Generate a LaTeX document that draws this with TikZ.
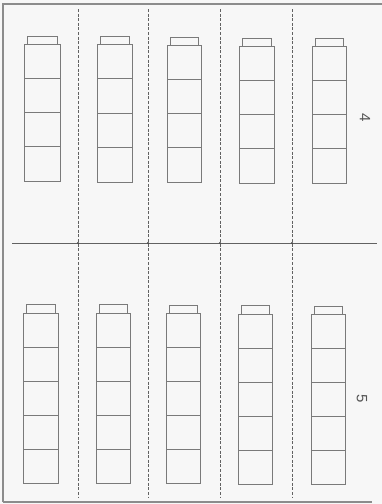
\documentclass[tikz,border=0pt]{standalone}
\usepackage{fontspec}
\setmainfont{Liberation Sans}
\definecolor{paper}{HTML}{F7F7F7}
\definecolor{ink}{HTML}{7A7A7A}
\definecolor{frameink}{HTML}{8C8C8C}
\tikzset{
  cubeline/.style={draw=ink, line width=0.7pt},
  cutline/.style={draw=ink!80!black, line width=0.7pt, dash pattern=on 3pt off 1.6pt},
  foldline/.style={draw=ink!80!black, line width=0.9pt},
  frameline/.style={draw=frameink, line width=1.6pt},
  digit/.style={text=ink!70!black, font=\fontsize{15}{15}\selectfont, rotate=-90, inner sep=0pt}
}
% \cubestack{left x}{right x}{cap top y}{cube top y}{bottom y}{number of cubes}
\newcommand{\cubestack}[6]{%
  \draw[cubeline] (#1+3,#4) -- (#1+3,#3) -- (#2-3,#3) -- (#2-3,#4);
  \draw[cubeline] (#1,#4) rectangle (#2,#5);
  \pgfmathsetmacro{\cubeh}{(#5-#4)/#6}
  \foreach \k in {1,...,\numexpr#6-1\relax}{
    \draw[cubeline] (#1,{#4+\k*\cubeh}) -- (#2,{#4+\k*\cubeh});
  }
}
\begin{document}
\begin{tikzpicture}[x=1pt,y=-1pt]
\fill[paper] (0,0) rectangle (382,504);
\useasboundingbox (0,0) rectangle (382,504);
% frame
\draw[frameline] (3,502) -- (3,4) -- (382,4);
\draw[frameline] (3,502) -- (372,502);
% cut lines
\foreach \x in {78,148,220,292}{
  \draw[cutline] (\x,9) -- (\x,497);
}
\coordinate (foldL) at (12,243);
\coordinate (foldR) at (377,243);
\draw[foldline] (foldL) -- (foldR);
\foreach \x in {78,148,220,292}{
  \fill[ink!60!black] (\x,243) circle (1.2pt);
}
% top row: stacks of 4
\cubestack{24}{60}{36}{44}{181}{4}
\cubestack{97}{132}{36}{44}{182}{4}
\cubestack{167}{201}{37}{45}{182}{4}
\cubestack{239}{274}{38}{46}{183}{4}
\cubestack{312}{346}{38}{46}{183}{4}
% bottom row: stacks of 5
\cubestack{23}{58}{304}{313}{483}{5}
\cubestack{96}{130}{304}{313}{483}{5}
\cubestack{166}{200}{305}{313}{483}{5}
\cubestack{238}{272}{305}{314}{484}{5}
\cubestack{311}{345}{306}{314}{484}{5}
% labels
\node[digit] (four) at (365,118) {4};
\node[digit] (five) at (362,399) {5};
\end{tikzpicture}
\end{document}
